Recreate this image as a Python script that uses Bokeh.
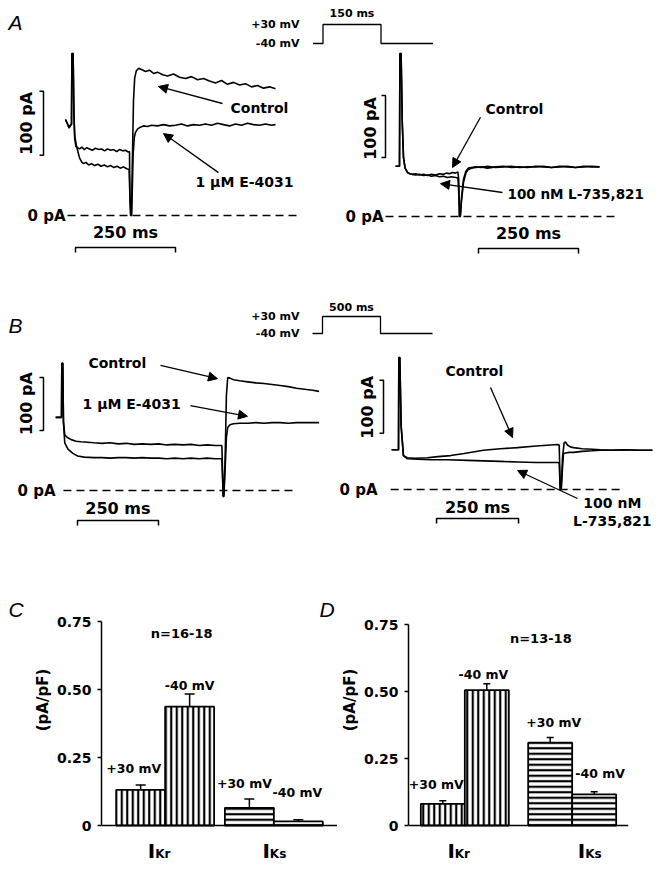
import math
from bokeh.plotting import figure
from bokeh.models import (Range1d, FactorRange, ColumnDataSource, Arrow, NormalHead,
                          Whisker, TeeHead, Span, Label, FixedTicker, LinearAxis,
                          CustomJSTickFormatter)
from bokeh.layouts import column, row
from bokeh.embed import file_html
from bokeh.resources import INLINE
from bokeh.core.properties import value

# ---------------------------------------------------------------- data
# Panel A left: 150 ms pulse, time (ms) from pulse onset, current (pA)
A1_CTRL_T = [-15, -10, -6, -2, 0, 1, 4, 6, 8, 11, 15, 20, 26, 32, 38, 45, 52, 60, 68, 75, 83, 90, 98,
             105, 113, 120, 128, 135, 142, 145, 146, 148, 150, 152, 155, 158, 162, 168, 175, 185, 195,
             205, 215, 228, 240, 255, 270, 285, 300, 315, 330, 345, 360, 375, 390, 405, 420, 435, 450,
             465, 480, 495, 510]
A1_CTRL_I = [150, 143, 137, 142, 142, 253, 253, 160, 120, 108, 106, 104, 107, 103, 106, 104, 102, 105,
             103, 104, 101, 104, 102, 103, 100, 103, 101, 102, 99, 100, 30, 0, 0, 80, 180, 215, 226, 230,
             228, 225, 227, 222, 224, 220, 218, 221, 216, 214, 217, 212, 214, 210, 207, 211, 205, 208,
             204, 206, 201, 203, 199, 201, 198]
A1_E4031_T = [-15, -10, -6, -2, 0, 1, 4, 6, 8, 12, 16, 20, 25, 30, 36, 43, 50, 58, 66, 74, 82, 90, 98,
              106, 114, 122, 130, 138, 144, 146, 148, 150, 152, 154, 157, 160, 165, 172, 180, 190, 200,
              215, 230, 245, 260, 275, 290, 305, 320, 335, 350, 365, 380, 395, 410, 425, 440, 455, 470,
              485, 500, 510]
A1_E4031_I = [150, 143, 137, 142, 142, 253, 253, 160, 125, 110, 100, 90, 84, 81, 83, 79, 81, 78, 80, 77,
              79, 76, 78, 75, 77, 74, 76, 73, 72, 30, 0, 0, 40, 95, 122, 130, 135, 138, 140, 139, 141,
              140, 142, 140, 141, 143, 140, 142, 141, 143, 141, 144, 142, 140, 143, 141, 144, 142, 141,
              143, 141, 142]

# Panel A right
A2_CTRL_T = [-10, -3, 0, 1, 4, 7, 10, 14, 20, 26, 32, 40, 50, 60, 70, 80, 90, 100, 110, 118, 125, 132,
             140, 146, 148, 150, 152, 155, 160, 166, 172, 180, 190, 205, 220, 240, 260, 280, 300, 320,
             340, 360, 380, 400, 420, 440, 460, 480, 500]
A2_CTRL_I = [81, 81, 81, 263, 263, 150, 95, 78, 71, 69, 68, 69, 67, 68, 66, 68, 67, 69, 68, 70, 69, 71,
             70, 72, 60, 0, 0, 30, 60, 73, 78, 79, 80, 79, 81, 79, 80, 81, 79, 80, 80, 81, 79, 80, 81,
             79, 80, 81, 80]
A2_L735_T = [-10, -3, 0, 1, 4, 7, 10, 14, 20, 26, 32, 40, 50, 60, 70, 80, 90, 100, 110, 120, 130, 140,
             146, 148, 150, 152, 155, 160, 166, 172, 180, 190, 205, 220, 240, 260, 280, 300, 320, 340,
             360, 380, 400, 420, 440, 460, 480, 500]
A2_L735_I = [81, 81, 81, 263, 263, 150, 95, 78, 71, 69, 68, 67, 68, 66, 67, 65, 66, 64, 65, 63, 64, 63,
             62, 40, 0, 0, 25, 55, 70, 76, 78, 79, 80, 78, 80, 81, 79, 80, 79, 81, 80, 79, 81, 80, 79,
             81, 80, 80]

# Panel B left: 500 ms pulse
B1_CTRL_T = [-18, -3, 0, 1, 4, 6, 10, 18, 30, 45, 60, 80, 100, 125, 150, 175, 200, 225, 250, 275, 300,
             325, 350, 375, 400, 425, 450, 475, 495, 499, 501, 505, 509, 513, 520, 531, 550, 575, 600,
             625, 650, 675, 700, 725, 750, 775, 795]
B1_CTRL_I = [138, 138, 138, 240, 240, 130, 105, 100, 96, 93, 92, 91, 90, 89, 90, 88, 89, 87, 88, 87, 88,
             86, 87, 86, 87, 85, 86, 85, 85, -11, -11, 60, 180, 213, 212, 209, 207, 205, 203, 202, 200,
             198, 196, 193, 191, 189, 187]
B1_E4031_T = [-18, -3, 0, 1, 4, 6, 10, 20, 35, 50, 70, 100, 125, 150, 175, 200, 225, 250, 275, 300, 325,
              350, 375, 400, 425, 450, 475, 495, 499, 501, 505, 509, 513, 520, 531, 550, 575, 600, 625,
              650, 675, 700, 725, 750, 775, 795]
B1_E4031_I = [138, 138, 138, 240, 240, 130, 90, 78, 70, 65, 63, 62, 62, 61, 62, 62, 61, 62, 61, 61, 60,
              61, 60, 61, 60, 61, 60, 60, -11, -11, 40, 100, 119, 124, 126, 127, 127, 128, 127, 128, 128,
              127, 128, 128, 128, 128]

# Panel B right
B2_CTRL_T = [-21, -3, 0, 1, 4, 8, 15, 27, 50, 88, 120, 159, 200, 259, 310, 363, 420, 485, 490, 493,
             496, 500, 505, 509, 515, 525, 534, 560, 590, 616, 650, 690, 730, 774]
B2_CTRL_I = [75, 75, 75, 249, 249, 120, 64, 60, 59, 60, 62, 64, 68, 74, 77, 79, 82, 85, 84, 0, 0, 60, 88,
             90, 84, 80, 79, 77, 76, 75, 74, 75, 74, 74]
B2_L735_T = [-21, -3, 0, 1, 4, 8, 15, 27, 60, 100, 150, 210, 260, 310, 363, 420, 485, 490, 493, 496,
             500, 503, 510, 520, 534, 560, 590, 616, 650, 690, 730, 774]
B2_L735_I = [75, 75, 75, 249, 249, 120, 64, 58, 57, 56, 56, 55, 54, 53, 52, 51, 51, 50, 0, 0, 40, 68,
             69, 70, 70, 72, 73, 74, 74, 75, 74, 74]

# Voltage protocol
PROTO_V = [-40, 30, -40]          # mV
PROTO_A_MS = 150
PROTO_B_MS = 500
SCALE_PA = 100
SCALE_MS = 250

# Panels C and D
GROUPS = ["IKr", "IKs"]
GROUP_SUB = ["Kr", "Ks"]
POTENTIALS = ["+30 mV", "-40 mV"]
C_MEAN = [0.131, 0.437, 0.065, 0.015]
C_SEM = [0.018, 0.046, 0.032, 0.006]
D_MEAN = [0.081, 0.505, 0.309, 0.116]
D_SEM = [0.011, 0.024, 0.019, 0.010]
Y_TICKS = [0, 0.25, 0.5, 0.75]
C_N = "n=16-18"
D_N = "n=13-18"

# ---------------------------------------------------------------- layout helpers
BOLD = "DejaVu Sans"
PAGE_W, PAGE_H = 663, 869
SPLIT_Y = 530
REF_X0, REF_X1, REF_Y0, REF_Y1 = 0, PAGE_W, 0, SPLIT_Y


def xrange_for(anchor_px, anchor_val, ppu):
    return Range1d(anchor_val + (REF_X0 - anchor_px) / ppu, anchor_val + (REF_X1 - anchor_px) / ppu)


def yrange_for(anchor_px, anchor_val, ppu):
    return Range1d(anchor_val - (REF_Y1 - anchor_px) / ppu, anchor_val + (anchor_px - REF_Y0) / ppu)


top = figure(width=PAGE_W, height=SPLIT_Y, x_range=Range1d(0, 1), y_range=Range1d(0, 1),
             output_backend="svg", toolbar_location=None, min_border=0,
             x_axis_location=None, y_axis_location=None, outline_line_color=None)
top.grid.visible = False

PANELS = {
    "aL": ((71, 0, 0.4), (215, 0, 0.64)),
    "aR": ((399, 0, 0.4), (216, 0, 0.62)),
    "bL": ((61, 0, 0.324), (490, 0, 0.53)),
    "bR": ((398, 0, 0.328), (489, 0, 0.53)),
    "pA": ((322.5, 0, 58 / PROTO_A_MS), (43, PROTO_V[0], 19 / 70)),
    "pB": ((322, 0, 58 / PROTO_B_MS), (333, PROTO_V[0], 17 / 70)),
}
for name, (xa, ya) in PANELS.items():
    top.extra_x_ranges[name] = xrange_for(*xa)
    top.extra_y_ranges[name] = yrange_for(*ya)


def L(panel, xs, ys, width=1.5, dash="solid"):
    top.line(xs, ys, x_range_name=panel, y_range_name=panel, line_color="black",
             line_width=width, line_dash=dash)


def T(panel, x, y, s, size, align="left", angle=0.0, font=BOLD, style="bold"):
    top.text(x=[x], y=[y], text=[s], angle=angle, x_range_name=panel, y_range_name=panel,
             text_font=value(font), text_font_style=style, text_font_size=f"{size}px",
             text_align=align, text_baseline="middle", text_color="black")


def ARR(panel, x0, y0, x1, y1):
    top.add_layout(Arrow(end=NormalHead(size=9, fill_color="black", line_color="black", line_width=1),
                         x_start=x0, y_start=y0, x_end=x1, y_end=y1,
                         x_range_name=panel, y_range_name=panel,
                         line_width=1.3, line_color="black"))


def ybar(panel, t, i0, tick):
    L(panel, [t - tick, t, t, t - tick], [i0 + SCALE_PA, i0 + SCALE_PA, i0, i0])


def xbar(panel, t0, i, tick):
    L(panel, [t0, t0, t0 + SCALE_MS, t0 + SCALE_MS], [i - tick, i, i, i - tick])


def protocol(panel, dur, pre, post, lab_t, top_y):
    ts = [-pre, 0, 0, dur, dur, dur + post]
    vs = [PROTO_V[0], PROTO_V[0], PROTO_V[1], PROTO_V[1], PROTO_V[2], PROTO_V[2]]
    L(panel, ts, vs, width=1.3)
    T(panel, lab_t, PROTO_V[1], "+30 mV", 11, align="right")
    T(panel, lab_t, PROTO_V[0], "-40 mV", 11, align="right")
    T(panel, dur / 2, top_y, f"{dur} ms", 11, align="center")


# ---- traces
L("aL", A1_CTRL_T, A1_CTRL_I, 1.6)
L("aL", A1_E4031_T, A1_E4031_I, 1.6)
L("aR", A2_CTRL_T, A2_CTRL_I, 1.6)
L("aR", A2_L735_T, A2_L735_I, 1.6)
L("bL", B1_CTRL_T, B1_CTRL_I, 1.6)
L("bL", B1_E4031_T, B1_E4031_I, 1.6)
L("bR", B2_CTRL_T, B2_CTRL_I, 1.6)
L("bR", B2_L735_T, B2_L735_I, 1.6)

# ---- protocols
pA_ppu = 58 / PROTO_A_MS
pB_ppu = 58 / PROTO_B_MS
protocol("pA", PROTO_A_MS, 10 / pA_ppu, 52 / pA_ppu, (299 - 322.5) / pA_ppu, 70.5)
protocol("pB", PROTO_B_MS, 10 / pB_ppu, 52 / pB_ppu, (299 - 322) / pB_ppu, 67)

# ---- panel A left annotations
T("aL", -157.5, 300.8, "A", 21, font="Liberation Sans", style="italic")
ybar("aL", -70, 94, 10)
T("aL", -112.5, 144, "100 pA", 16, align="center", angle=math.pi / 2)
T("aL", -15, 0, "0 pA", 15, align="right")
L("aL", [-10, 572], [0, 0], 1.4, "8 5")
xbar("aL", 10, -50, 8)
T("aL", 135, -26.6, "250 ms", 16, align="center")
T("aL", 397.5, 168.75, "Control", 14)
ARR("aL", 377.5, 175, 217.5, 201.6)
T("aL", 310, 51.6, "1 µM E-4031", 14)
ARR("aL", 367.5, 67, 230, 128)

# ---- panel A right annotations
ybar("aR", -35, 95, 10)
T("aR", -72.5, 142, "100 pA", 16, align="center", angle=math.pi / 2)
T("aR", -40, 0, "0 pA", 15, align="right")
L("aR", [-35, 545], [0, 0], 1.4, "8 5")
xbar("aR", 197.5, -51.6, 8)
T("aR", 322.5, -27.4, "250 ms", 16, align="center")
T("aR", 215, 174, "Control", 14)
ARR("aR", 202.5, 160, 132.5, 79)
T("aR", 270, 37, "100 nM L-735,821", 13.5)
ARR("aR", 257.5, 38.7, 102.5, 53)

# ---- panel B left annotations
T("bL", -163.6, 310.4, "B", 21, font="Liberation Sans", style="italic")
ybar("bL", -55.6, 113, 12.3)
T("bL", -108, 164, "100 pA", 16, align="center", angle=math.pi / 2)
T("bL", -18.5, 0, "0 pA", 15, align="right")
L("bL", [6, 722], [0, 0], 1.4, "8 5")
xbar("bL", 49.4, -56.6, 9.4)
T("bL", 174, -34, "250 ms", 16, align="center")
T("bL", 83, 241.5, "Control", 14)
ARR("bL", 305.6, 236, 481.5, 211)
T("bL", 65, 164, "1 µM E-4031", 14)
ARR("bL", 398, 160, 574, 140)

# ---- panel B right annotations
ybar("bR", -45.7, 106, 12.2)
T("bR", -94.5, 155, "100 pA", 16, align="center", angle=math.pi / 2)
T("bR", -64, 0, "0 pA", 15, align="right")
L("bR", [-24, 683], [0, 0], 1.4, "8 5")
xbar("bR", 116, -54.7, 9.4)
T("bR", 241, -34, "250 ms", 16, align="center")
T("bR", 143, 224.5, "Control", 14)
ARR("bR", 280.5, 192.5, 347.6, 98)
T("bR", 652, -26.4, "100 nM", 14, align="center")
T("bR", 652, -58.5, "L-735,821", 14, align="center")
ARR("bR", 545.7, -17, 363, 35.8)


# ---------------------------------------------------------------- bar panels
BOT_H = PAGE_H - SPLIT_Y
ZERO_Y = 825   # page y of the 0 baseline
LETTER_Y = 609  # page y of the centre of the panel letters C / D


def bar_panel(means, sems, width, b_left, b_right, ppu, group_pad, side_pad,
              n_text, n_dx, n_y, lab_dx, lab_dy, sub_dx, cap, letters):
    factors = [(g, v) for g in GROUPS for v in POTENTIALS]
    xr = FactorRange(*factors, factor_padding=0, group_padding=group_pad,
                     range_padding=side_pad, range_padding_units="absolute")
    yr = Range1d(-(PAGE_H - ZERO_Y) / ppu, (ZERO_Y - SPLIT_Y) / ppu)
    p = figure(width=width, height=BOT_H, x_range=xr, y_range=yr,
               min_border_left=b_left, min_border_right=b_right, min_border_top=0,
               min_border_bottom=0, x_axis_location=None, y_axis_location=None,
               output_backend="svg", toolbar_location=None, outline_line_color=None)
    p.grid.visible = False
    ax = LinearAxis(bounds=(0, 0.75), ticker=FixedTicker(ticks=Y_TICKS),
                    formatter=CustomJSTickFormatter(code="return tick == 0 ? '0' : tick.toFixed(2)"))
    ax.axis_line_width = 1.5
    ax.axis_line_color = "black"
    ax.major_tick_line_width = 1.5
    ax.major_tick_line_color = "black"
    ax.major_tick_out = 4
    ax.major_tick_in = 0
    ax.minor_tick_out = 0
    ax.minor_tick_in = 0
    ax.major_label_text_font = BOLD
    ax.major_label_text_font_style = "bold"
    ax.major_label_text_font_size = "14px"
    ax.major_label_text_color = "black"
    ax.major_label_standoff = 6
    ax.axis_label = "(pA/pF)"
    ax.axis_label_text_font = BOLD
    ax.axis_label_text_font_style = "bold"
    ax.axis_label_text_font_size = "15px"
    ax.axis_label_text_color = "black"
    ax.axis_label_standoff = 2
    p.add_layout(ax, "left")

    hatches = ["vertical_line"] * 2 + ["horizontal_line"] * 2
    src = ColumnDataSource(dict(x=factors, top=means, upper=[m + s for m, s in zip(means, sems)],
                                hatch=hatches, lab=[f[1] for f in factors],
                                dx=lab_dx, dy=lab_dy))
    p.vbar(x="x", top="top", width=1.0, source=src, fill_color="white", line_color="black",
           line_width=1.8, hatch_pattern="hatch", hatch_color="black", hatch_weight=2.2,
           hatch_scale=5.5)
    p.add_layout(Whisker(source=src, base="x", upper="upper", lower="top", dimension="height",
                         line_width=1.5, line_color="black", lower_head=None,
                         upper_head=TeeHead(size=cap, line_width=1.5, line_color="black")))
    p.add_layout(Span(location=0, dimension="width", line_color="black", line_width=1.5))
    p.text(x="x", y="upper", text="lab", x_offset="dx", y_offset="dy", source=src,
           text_font=value(BOLD), text_font_style="bold", text_font_size="12.5px",
           text_align="center", text_baseline="middle", text_color="black")
    p.text(x=["IKr"], y=[n_y], text=[n_text], x_offset=n_dx, text_font=value(BOLD),
           text_font_style="bold", text_font_size="13px", text_align="center",
           text_baseline="middle", text_color="black")
    p.text(x=GROUPS, y=[0, 0], text=["I", "I"], x_offset=sub_dx, y_offset=25.5,
           text_font=value(BOLD), text_font_style="bold", text_font_size="20px",
           text_align="right", text_baseline="middle", text_color="black")
    p.text(x=GROUPS, y=[0, 0], text=GROUP_SUB, x_offset=sub_dx, y_offset=28,
           text_font=value(BOLD), text_font_style="bold", text_font_size="12px",
           text_align="left", text_baseline="middle", text_color="black")
    for letter, dx in letters:
        p.add_layout(Label(x=-side_pad, y=(ZERO_Y - LETTER_Y) / ppu, x_offset=dx, text=letter,
                           text_font="Liberation Sans", text_font_style="italic",
                           text_font_size="21px", text_baseline="middle",
                           text_color="black"))
    return p


# narrow strip that carries the panel letter "C" (left of the C axis)
LETTER_W = 30
pl = figure(width=LETTER_W, height=BOT_H, x_range=Range1d(0, LETTER_W),
            y_range=Range1d(PAGE_H, SPLIT_Y), output_backend="svg", toolbar_location=None,
            min_border=0, x_axis_location=None, y_axis_location=None, outline_line_color=None)
pl.grid.visible = False
pl.text(x=[8], y=[LETTER_Y], text=["C"], text_font=value("Liberation Sans"), text_font_style="italic",
        text_font_size="21px", text_baseline="middle", text_align="left", text_color="black")

pc = bar_panel(C_MEAN, C_SEM, 337 - LETTER_W, 100 - LETTER_W, 0, 272, 0.22, 0.3, C_N, 16.5,
               (ZERO_Y - 633) / 272, [-7, 0, -5, -1], [-16.5, -8.6, -15.6, -27.3], [-10, -4], 10,
               [("D", 218)])
pd = bar_panel(D_MEAN, D_SEM, PAGE_W - 337, 66, PAGE_W - 628, 268, 0.44, 0.28, D_N, 76,
               (ZERO_Y - 638) / 268, [-6.5, -3.5, 3.5, 6], [-16.3, -9.2, -14.6, -18.7], [-10, 13], 7,
               [])

layout = column(top, row(pl, pc, pd, spacing=0), spacing=0)
open("out.html", "w").write(file_html(layout, INLINE))
